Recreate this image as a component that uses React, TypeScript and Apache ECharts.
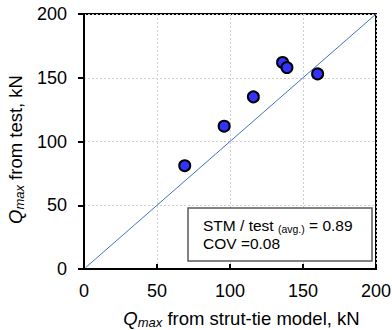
import React, { useEffect, useRef } from "react";
import * as echarts from "echarts";

const stmValues = [69, 96, 116, 136, 139, 160];
const testValues = [81, 112, 135, 162, 158, 153];
const diagonal = [[1, 1], [200, 200]];
const axisTicks = [0, 50, 100, 150, 200];
const statText = { ratio: "0.89", cov: "0.08" };

const FONT = "Liberation Sans, Arial, sans-serif";

export default function App() {
  const ref = useRef<HTMLDivElement>(null);
  useEffect(() => {
    if (!ref.current) return;
    const chart = echarts.init(ref.current, undefined, { renderer: "svg" });
    const points = stmValues.map((v, i) => [v, testValues[i]]);
    const nameRich = {
      q: { fontSize: 18.5, fontStyle: "italic", fontFamily: FONT, color: "#000", lineHeight: 22 },
      s: { fontSize: 13, fontStyle: "italic", fontFamily: FONT, color: "#000", lineHeight: 10, verticalAlign: "bottom" },
      t: { fontSize: 18.5, fontFamily: FONT, color: "#000", lineHeight: 22 },
    };
    chart.setOption({
      animation: false,
      textStyle: { fontFamily: FONT },
      grid: {
        left: 84, top: 14, right: 16, bottom: 61,
        outerBoundsMode: "none", containLabel: false,
        show: true, borderColor: "#000", borderWidth: 2, backgroundColor: "transparent",
      },
      xAxis: {
        type: "value",
        min: axisTicks[0],
        max: axisTicks[axisTicks.length - 1],
        interval: 50,
        name: "{q|Q}{s|max}{t| from strut-tie model, kN}",
        nameLocation: "middle",
        nameGap: 38,
        nameTextStyle: { rich: nameRich, padding: [0, 0, 0, 23] },
        axisLine: { lineStyle: { color: "#000", width: 2 } },
        axisTick: { inside: true, length: 5, lineStyle: { color: "#000", width: 2 } },
        axisLabel: { fontSize: 18, color: "#000", margin: 13, fontFamily: FONT },
        splitLine: { show: true, lineStyle: { color: "#cfcfcf", type: [2, 2], width: 1 } },
      },
      yAxis: {
        type: "value",
        min: axisTicks[0],
        max: axisTicks[axisTicks.length - 1],
        interval: 50,
        name: "{q|Q}{s|max}{t| from test, kN}",
        nameLocation: "middle",
        nameRotate: 90,
        nameGap: 52,
        nameTextStyle: { rich: nameRich, padding: [0, 16, 0, 0] },
        axisLine: { lineStyle: { color: "#000", width: 2 } },
        axisTick: { inside: false, length: 6, lineStyle: { color: "#000", width: 2 } },
        axisLabel: { fontSize: 18, color: "#000", margin: 17, fontFamily: FONT },
        splitLine: { show: true, lineStyle: { color: "#cfcfcf", type: [2, 2], width: 1 } },
      },
      series: [
        {
          type: "line",
          data: diagonal,
          symbol: "none",
          lineStyle: { color: "#4472c4", width: 1 },
          z: 2,
        },
        {
          type: "scatter",
          data: points,
          symbol: "circle",
          symbolSize: 11,
          itemStyle: { color: "#3333ff", borderColor: "#000", borderWidth: 2, opacity: 1 },
          z: 3,
        },
      ],
      graphic: [
        {
          type: "rect",
          shape: { x: 188, y: 208, width: 184, height: 53 },
          style: { fill: "#fff", stroke: "#595959", lineWidth: 1.5 },
          z: 10,
        },
        {
          type: "text",
          x: 203,
          y: 216,
          z: 11,
          style: {
            text: "{a|STM / test }{b|(avg.)}{a| = " + statText.ratio + "}\n{a|COV =" + statText.cov + "}",
            rich: {
              a: { fontSize: 15.5, fontFamily: FONT, color: "#000", lineHeight: 18 },
              b: { fontSize: 10.5, fontFamily: FONT, color: "#000", lineHeight: 10, verticalAlign: "bottom" },
            },
          },
        },
      ],
    });
    return () => chart.dispose();
  }, []);
  return <div ref={ref} style={{ width: 392, height: 330, position: "absolute", left: 0, top: 0 }} />;
}
